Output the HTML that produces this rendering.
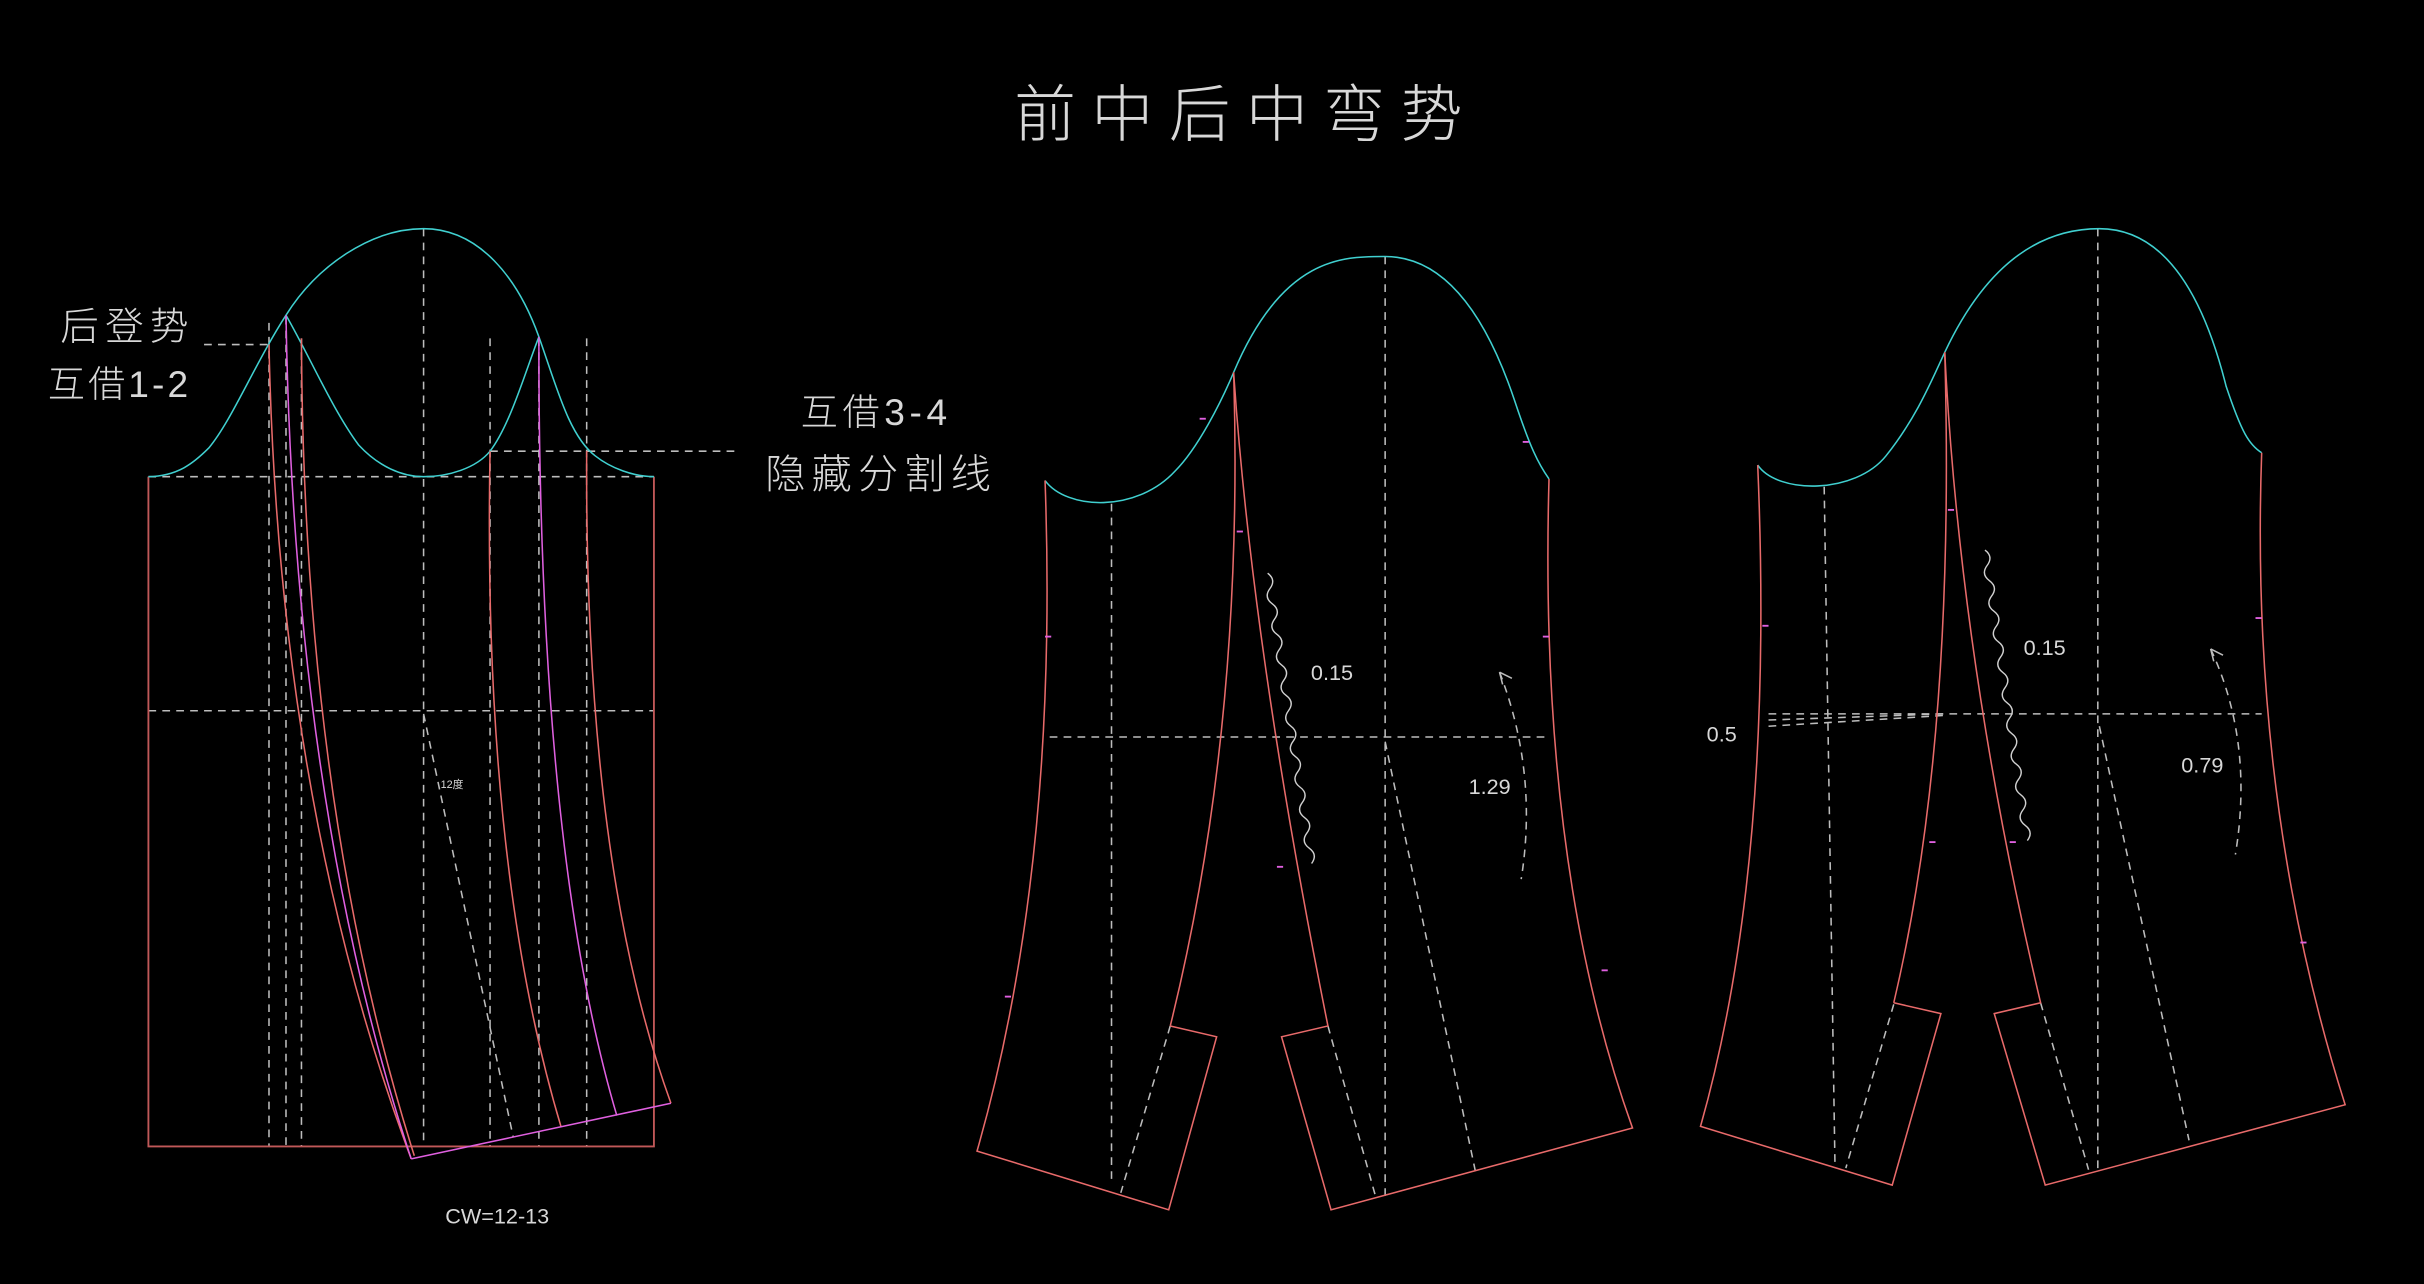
<!DOCTYPE html>
<html><head><meta charset="utf-8"><style>
html,body{margin:0;padding:0;background:#000;}
svg{display:block;}
text{font-family:"Liberation Sans","Noto Sans CJK SC",sans-serif;fill:#d8d8d8;}
</style></head><body>
<svg width="2424" height="1284" viewBox="0 0 1568 831" preserveAspectRatio="none" xmlns="http://www.w3.org/2000/svg">
<rect width="1568" height="831" fill="#000"/>
<text x="806" y="88" font-size="40" text-anchor="middle" letter-spacing="10" font-weight="300">前中后中弯势</text>

<!-- LEFT FIGURE -->
<g fill="none" stroke="#bdbdbd" stroke-width="1" stroke-dasharray="5,4">
<line x1="96" y1="308.5" x2="423" y2="308.5"/>
<line x1="96" y1="460" x2="423" y2="460"/>
<line x1="317" y1="292" x2="478" y2="292"/>
<line x1="132" y1="223" x2="174" y2="223"/>
<line x1="174" y1="209" x2="174" y2="742"/>
<line x1="185" y1="205" x2="185" y2="742"/>
<line x1="195" y1="219" x2="195" y2="742"/>
<line x1="274" y1="148" x2="274" y2="742"/>
<line x1="317" y1="219" x2="317" y2="742"/>
<line x1="348.6" y1="219" x2="348.6" y2="742"/>
<line x1="379.5" y1="219" x2="379.5" y2="742"/>
<line x1="274" y1="462" x2="332" y2="736"/>
</g>
<path d="M96,308.5 V742 H423 V308.5" fill="none" stroke="#c05858" stroke-width="1.2"/>
<path d="M96,308.5 C115,308 125,300 135,290 C150,272 165,235 185,204 C205,172 240,148 274,148 C310,148 335,180 348.6,218 C360,250 368,282 385,295 C395,303 410,308.5 423,308.5" fill="none" stroke="#40d0d0" stroke-width="1"/>
<path d="M185,204 C200,230 215,265 232,288 C245,302 260,308.5 274,308.5 C290,308.5 308,303 317,292 C330,275 340,240 348.6,218" fill="none" stroke="#40d0d0" stroke-width="1"/>
<g fill="none" stroke-width="1">
<path d="M174,223 Q180,520 266,750" stroke="#e86a6a"/>
<path d="M185,204 Q190,520 266,750" stroke="#e060e0"/>
<path d="M195,219 Q196,520 268,748" stroke="#e86a6a"/>
<path d="M317,292 Q312,560 363,729.5" stroke="#e86a6a"/>
<path d="M348.6,218 Q348,550 399,722" stroke="#e060e0"/>
<path d="M379.5,292 Q378,560 434,714" stroke="#e86a6a"/>
<line x1="266" y1="750" x2="434" y2="714" stroke="#e060e0"/>
</g>
<text x="285" y="510" font-size="7">12度</text>
<text x="39" y="220" font-size="25" letter-spacing="4" font-weight="300">后登势</text>
<text x="31" y="257" font-size="24" letter-spacing="2" font-weight="300">互借1-2</text>
<text x="518" y="275" font-size="24" letter-spacing="3" font-weight="300">互借3-4</text>
<text x="495" y="316" font-size="26" letter-spacing="4" font-weight="300">隐藏分割线</text>
<text x="288" y="792" font-size="14">CW=12-13</text>

<!-- MIDDLE FIGURE -->
<g fill="none" stroke="#bdbdbd" stroke-width="1" stroke-dasharray="5,4">
<line x1="679" y1="477" x2="1002" y2="477"/>
<line x1="719" y1="326" x2="719" y2="766"/>
<line x1="896" y1="166" x2="896" y2="775"/>
<line x1="896" y1="480" x2="955" y2="761"/>
<line x1="757" y1="664" x2="725" y2="772"/>
<line x1="859" y1="664" x2="890" y2="775"/>
<path d="M970,435 Q995,500 984,569"/>
</g>
<path d="M970,435 l2,8 M970,435 l8,4" stroke="#bdbdbd" stroke-width="1"/>
<path d="M676,311 C690,330 735,332 760,305 C775,290 790,260 798,241 C830,165 870,166 896,166 C940,166 965,215 980,260 C990,290 995,300 1002,310" fill="none" stroke="#40d0d0" stroke-width="1"/>
<g fill="none" stroke="#e86a6a" stroke-width="1">
<path d="M676,311 Q685,560 632,745 L756,783 L787,671 L757,664"/>
<path d="M798,241 Q805,470 757,664"/>
<path d="M798,241 Q810,420 859,664 L829,671 L861,783 L1056,730 Q995,560 1002,310"/>
</g>
<path d="M0,0 q5,5 0,10 t0,10 t0,10 t0,10 t0,10 t0,10 t0,10 t0,10 t0,10 t0,10 t0,10 t0,10 t0,10 t0,10 t0,10 t0,10 t0,10 t0,10 t0,10" fill="none" stroke="#d0d0d0" stroke-width="0.9" transform="translate(820,371) rotate(-8.6)"/>
<text x="848" y="440" font-size="14">0.15</text>
<text x="950" y="514" font-size="14">1.29</text>

<!-- RIGHT FIGURE -->
<g fill="none" stroke="#bdbdbd" stroke-width="1" stroke-dasharray="5,4">
<line x1="1144" y1="462" x2="1463" y2="462"/>
<line x1="1144" y1="466" x2="1258" y2="462"/>
<line x1="1144" y1="470" x2="1258" y2="463"/>
<line x1="1180" y1="315" x2="1187" y2="755"/>
<line x1="1357" y1="148" x2="1357" y2="760"/>
<line x1="1358" y1="470" x2="1416" y2="738"/>
<line x1="1225" y1="650" x2="1194" y2="756"/>
<line x1="1320" y1="649" x2="1351" y2="757"/>
<path d="M1430,420 Q1458,480 1446,553"/>
</g>
<path d="M1430,420 l2,8 M1430,420 l8,4" stroke="#bdbdbd" stroke-width="1"/>
<path d="M1137,301 C1150,320 1200,320 1220,295 C1240,270 1250,245 1258,228 C1290,160 1330,148 1358,148 C1400,148 1425,190 1440,250 C1450,280 1455,288 1463,293" fill="none" stroke="#40d0d0" stroke-width="1"/>
<g fill="none" stroke="#e86a6a" stroke-width="1">
<path d="M1137,301 Q1148,560 1100,729 L1224,767 L1255.5,656 L1225,649"/>
<path d="M1258,228 Q1265,480 1225,649"/>
<path d="M1258,228 Q1268,430 1320,649 L1290,656 L1323,767 L1517,715 Q1455,520 1463,293"/>
</g>
<path d="M0,0 q5,5 0,10 t0,10 t0,10 t0,10 t0,10 t0,10 t0,10 t0,10 t0,10 t0,10 t0,10 t0,10 t0,10 t0,10 t0,10 t0,10 t0,10 t0,10 t0,10" fill="none" stroke="#d0d0d0" stroke-width="0.9" transform="translate(1284,356) rotate(-8.3)"/>
<text x="1309" y="424" font-size="14">0.15</text>
<text x="1411" y="500" font-size="14">0.79</text>
<text x="1104" y="480" font-size="14">0.5</text>

<!-- magenta ticks -->
<g stroke="#e060e0" stroke-width="1.2">
<line x1="676" y1="412" x2="680" y2="412"/><line x1="998" y1="412" x2="1002" y2="412"/>
<line x1="800" y1="344" x2="804" y2="344"/><line x1="826" y1="561" x2="830" y2="561"/>
<line x1="776" y1="271" x2="780" y2="271"/><line x1="985" y1="286" x2="989" y2="286"/>
<line x1="1140" y1="405" x2="1144" y2="405"/><line x1="1459" y1="400" x2="1463" y2="400"/>
<line x1="1260" y1="330" x2="1264" y2="330"/><line x1="1248" y1="545" x2="1252" y2="545"/>
<line x1="1300" y1="545" x2="1304" y2="545"/><line x1="1488" y1="610" x2="1492" y2="610"/>
<line x1="650" y1="645" x2="654" y2="645"/><line x1="1036" y1="628" x2="1040" y2="628"/>
</g>
</svg>
</body></html>
